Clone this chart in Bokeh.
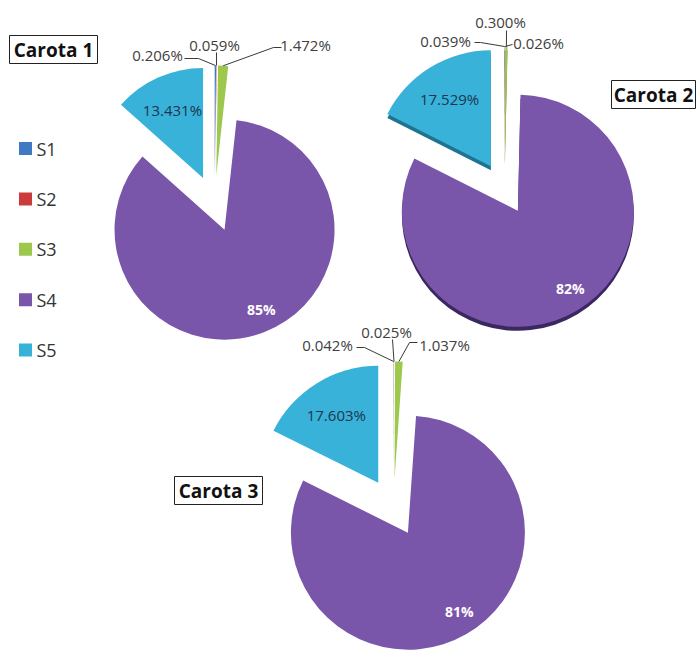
import math
from bokeh.plotting import figure
from bokeh.models import Range1d
from bokeh.core.properties import value
from bokeh.embed import file_html
from bokeh.resources import INLINE

W, H = 697, 650

# ---------------- data ----------------
series = ["S1", "S2", "S3", "S4", "S5"]
colors = ["#3F78C3", "#CC3B3B", "#9CC84B", "#7A56AA", "#38B2D8"]
shadow_colors = ["#24487A", "#7A2323", "#6E8A30", "#3C2860", "#1E7391"]
pie_names = ["Carota 1", "Carota 2", "Carota 3"]
carota1 = [0.206, 0.059, 1.472, 85, 13.431]
carota2 = [0.039, 0.026, 0.300, 82, 17.529]
carota3 = [0.042, 0.025, 1.037, 81, 17.603]
pies_values = [carota1, carota2, carota3]

# ---------------- layout (screen px, y down) ----------------
PIES = [
    dict(cx=214, cy=203, r=110, e=28, box=(9, 35, 97, 63), shadow=False),
    dict(cx=504, cy=188, r=116, e=26, box=(611, 80, 695, 108), shadow=True),
    dict(cx=393, cy=507, r=117, e=29, box=(174, 476, 262, 504), shadow=False),
]
# small-slice label layout: (text centre, line start, elbow)
SMALL = [
    [((157, 54), (184, 58), (198, 58)), ((214, 44), (216, 52), None), ((305, 44), (281, 47), (273, 47))],
    [((445, 40), (474, 42), (480, 42)), ((538, 42), (512, 44), None), ((500, 21), (506, 30), None)],
    [((327, 344), (356, 347), (364, 347)), ((386, 331), (392, 339), None), ((444, 344), (417, 342), (409, 342))],
]
FONT = value("Open Sans")


def Y(y):
    return H - y


p = figure(width=W, height=H, x_range=Range1d(0, W), y_range=Range1d(0, H),
           output_backend="svg", toolbar_location=None,
           x_axis_type=None, y_axis_type=None, min_border=0)
p.outline_line_color = None
p.background_fill_color = "white"

for pi, (vals, lay) in enumerate(zip(pies_values, PIES)):
    total = float(sum(vals))
    cx, cy, r, e = lay["cx"], Y(lay["cy"]), lay["r"], lay["e"]
    cum = 0.0
    wx, wy, st, en, cols, shcols = [], [], [], [], [], []
    mids = []
    for i, v in enumerate(vals):
        t1 = cum / total * 360.0
        cum += v
        t2 = cum / total * 360.0
        tm = math.radians((t1 + t2) / 2.0)
        mids.append(tm)
        wx.append(cx + e * math.sin(tm))
        wy.append(cy + e * math.cos(tm))
        st.append(math.radians(90 - t2))
        en.append(math.radians(90 - t1))
        cols.append(colors[i])
        shcols.append(shadow_colors[i])
    if lay["shadow"]:
        p.wedge(x=wx, y=[y - 4 for y in wy], radius=r,
                start_angle=st, end_angle=en, fill_color=shcols, line_color=None)
    p.wedge(x=wx, y=wy, radius=r, start_angle=st, end_angle=en,
            fill_color=cols, line_color=None)

    # inside labels S5 and S4
    tm5 = mids[4]
    p.text(x=[wx[4] + 0.68 * r * math.sin(tm5)], y=[wy[4] + 0.68 * r * math.cos(tm5)],
           text=[f"{vals[4]:.3f}%"], text_font=FONT, text_font_size="15px",
           text_color="#1E3550", text_align="center", text_baseline="middle")
    tm4 = mids[3]
    p.text(x=[wx[3] + 0.78 * r * math.sin(tm4) + 6], y=[wy[3] + 0.78 * r * math.cos(tm4)],
           text=[f"{vals[3]:.0f}%"], text_font=FONT, text_font_size="14px",
           text_font_style="bold", text_color="white",
           text_align="center", text_baseline="middle")

    # small labels with leader lines
    xs, ys, lx, ly, lt = [], [], [], [], []
    for i in range(3):
        (tx, ty), (sx, sy), elbow = SMALL[pi][i]
        tipx = cx + (e + r) * math.sin(mids[i])
        tipy = cy + (e + r) * math.cos(mids[i])
        px_ = [sx]
        py_ = [Y(sy)]
        if elbow is not None:
            px_.append(elbow[0])
            py_.append(Y(elbow[1]))
        px_.append(tipx)
        py_.append(tipy)
        xs.append(px_)
        ys.append(py_)
        lx.append(tx)
        ly.append(Y(ty))
        lt.append(f"{vals[i]:.3f}%")
    p.multi_line(xs=xs, ys=ys, line_color="#3A3A3A", line_width=1)
    p.text(x=lx, y=ly, text=lt, text_font=FONT, text_font_size="15px",
           text_color="#404040", text_align="center", text_baseline="middle")

    # title box
    bl, bt, br, bb = lay["box"]
    p.quad(left=[bl], right=[br], top=[Y(bt)], bottom=[Y(bb)],
           fill_color="white", line_color="#222222", line_width=1)
    p.text(x=[(bl + br) / 2], y=[Y((bt + bb) / 2)], text=[pie_names[pi]],
           text_font=FONT, text_font_size="19px", text_font_style="bold",
           text_color="#111111", text_align="center", text_baseline="middle")

# legend
leg_y = [Y(148 + i * 50.4) for i in range(len(series))]
p.scatter(x=[25] * len(series), y=leg_y, marker="square", size=13,
          fill_color=colors, line_color=None)
p.text(x=[36] * len(series), y=leg_y, text=series, text_font=FONT,
       text_font_size="18px", text_color="#333333",
       text_align="left", text_baseline="middle")

open("out.html", "w").write(file_html(p, INLINE))
